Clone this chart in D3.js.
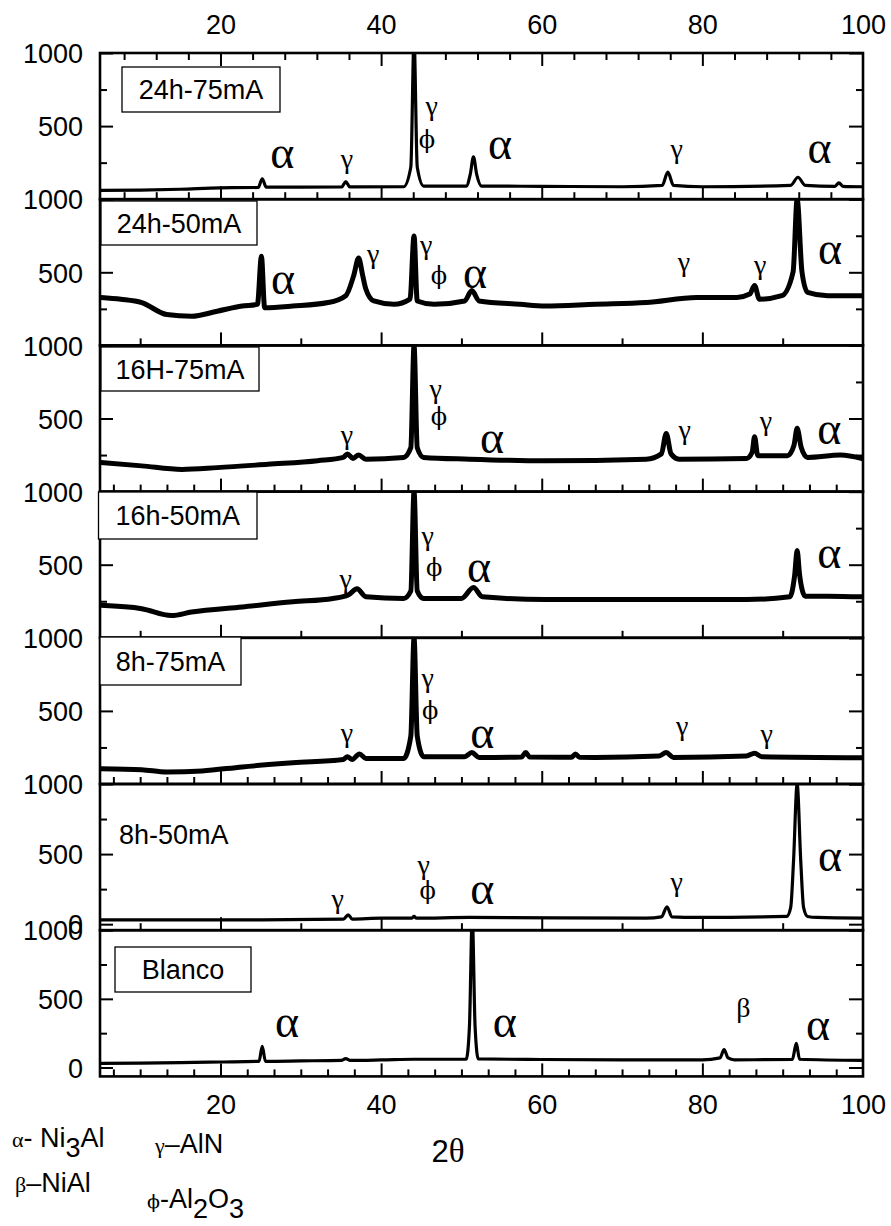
<!DOCTYPE html>
<html><head><meta charset="utf-8">
<script src="https://cdn.jsdelivr.net/npm/d3@7"></script>
<style>
body{margin:0;background:#fff}
svg text{font-family:"Liberation Sans",Arial,sans-serif;fill:#000}
</style>
</head><body>
<svg id="chart" width="891" height="1226"></svg>
<script>
// ---------- DATA ----------
const panelNames = ["24h-75mA","24h-50mA","16H-75mA","16h-50mA","8h-75mA","8h-50mA","Blanco"];
const panelBoxed = [true,true,true,true,true,false,true];
const xTickValues = [20,40,60,80,100];
const yTickValues = [0,500,1000];
const yMinorValues = [250,750];

const s24h75 = [[5,60],[10,62],[15,68],[20,78],[24.7,80],[25.2,140],[25.7,82],[30,82],[35.1,84],[35.6,120],[36.1,84],[42.8,85],[43.7,220],[44.1,1100],[44.5,220],[45.3,90],[50.6,90],[51.1,170],[51.5,290],[51.9,170],[52.5,90],[60,88],[70,85],[75.0,95],[75.7,185],[76.4,95],[80,85],[91.0,95],[91.9,150],[92.8,95],[96.5,88],[97.0,112],[97.5,88],[100,85]];
const s24h50 = [[5.1,328],[7.6,316],[10.2,293],[13.3,211],[16.4,199],[19.6,234],[22.7,269],[24.6,281],[25.1,609],[25.5,258],[29.0,269],[33.4,293],[35.6,340],[36.6,480],[37.2,597],[37.7,480],[38.1,386],[39.1,304],[41.6,281],[43.6,316],[44.1,749],[44.5,304],[46.6,281],[50.4,304],[51.3,375],[52.2,304],[57.3,281],[60.4,269],[66.7,281],[73.0,293],[79.3,328],[84.3,328],[85.9,351],[86.5,410],[87.1,316],[89.9,340],[91.3,504],[91.8,1000],[92.4,504],[93.1,363],[95.6,340],[100,340]];
const s16h75 = [[5.1,199],[10.2,176],[15.2,152],[19.6,164],[25.9,187],[32.1,211],[35.3,234],[35.8,258],[36.5,227],[37.2,251],[38.1,222],[42.8,234],[43.7,300],[44.1,1000],[44.5,300],[45.3,234],[51.0,222],[60.4,211],[73.0,222],[74.9,258],[75.5,398],[76.1,258],[77.1,222],[85.5,227],[86.2,269],[86.5,375],[86.9,246],[90.6,246],[91.4,316],[91.8,433],[92.3,304],[93.1,234],[97.2,250],[100,225]];
const s16h50 = [[5.1,222],[10.2,199],[13.9,152],[16.4,176],[22.7,211],[29.0,246],[34.0,269],[35.9,293],[37.0,335],[38.1,281],[42.8,269],[43.7,320],[44.1,1000],[44.5,320],[45.3,269],[50.0,269],[51.5,344],[52.6,281],[60.4,262],[73.0,262],[85.5,262],[90.9,281],[91.5,433],[91.8,597],[92.1,433],[92.8,285],[95.6,285],[100,280]];
const s8h75 = [[5.1,105],[10.2,98],[13.3,82],[17.7,89],[22.7,117],[29.0,145],[35.3,168],[35.8,187],[36.4,168],[37.3,206],[38.1,175],[42.8,175],[43.7,327],[44.1,1000],[44.5,327],[45.3,187],[50.4,187],[51.3,215],[52.2,182],[57.5,185],[58.0,215],[58.5,185],[63.7,183],[64.2,205],[64.7,183],[66.7,182],[74.6,192],[75.5,215],[76.4,182],[85.5,192],[86.5,210],[87.4,187],[100,180]];
const s8h50 = [[5.1,31],[22.7,31],[35.3,36],[35.9,67],[36.4,36],[40,43],[43.8,43],[44.1,55],[44.4,43],[51.0,48],[73.0,43],[74.9,52],[75.6,124],[76.2,52],[79.3,48],[90.5,55],[91.0,120],[91.35,450],[91.8,1000],[92.25,450],[92.6,120],[93.1,55],[94.3,48],[100,43]];
const sBlanco = [[5,30],[10,32],[15,35],[20,40],[24.8,45],[25.2,153],[25.6,45],[30,48],[35.1,52],[35.6,65],[36.1,52],[40,55],[44.1,60],[50.6,60],[51.0,300],[51.35,1100],[51.7,300],[52.1,62],[60,58],[70,56],[80,56],[82.2,70],[82.7,131],[83.2,70],[84,56],[91.2,58],[91.7,175],[92.1,60],[100,52]];
const seriesList = [s24h75,s24h50,s16h75,s16h50,s8h75,s8h50,sBlanco];
const yDomains = [[0,1000],[0,1000],[0,1000],[0,1000],[0,1000],[-43,1000],[-65,1000]];
const yLabelValues = [[500,1000],[500,1000],[500,1000],[500,1000],[500,1000],[0,500,1000],[0,500,1000]];
const xMinorSteps = [4,10,10/3,10,10/3,10,10/3];

// peak annotations: [symbol, 2θ, intensity]
const notes24h75 = [["α",27.7,322],["γ",35.75,281],["γ",46.3,644],["ϕ",45.7,404],["α",54.8,384],["γ",76.8,349],["α",94.6,356]];
const notes24h50 = [["α",27.8,459],["γ",39.0,630],["γ",45.6,692],["ϕ",47.2,473],["α",51.7,500],["γ",77.7,575],["γ",87.2,555],["α",95.9,664]];
const notes16h75 = [["γ",35.75,390],["γ",46.8,705],["ϕ",47.2,507],["α",53.8,370],["γ",77.8,425],["γ",87.9,486],["α",95.8,432]];
const notes16h50 = [["γ",35.6,404],["γ",45.8,699],["ϕ",46.6,479],["α",52.2,486],["α",95.8,582]];
const notes8h75 = [["γ",35.75,349],["γ",45.8,726],["ϕ",46.1,500],["α",52.6,349],["γ",77.5,397],["γ",88.0,342]];
const notes8h50 = [["γ",34.6,186],["γ",45.3,429],["ϕ",45.8,236],["α",52.6,257],["γ",76.8,307],["α",95.9,493]];
const notesBlanco = [["α",28.3,336],["α",55.4,336],["β",85.1,438],["α",94.4,314]];
const notesList = [notes24h75,notes24h50,notes16h75,notes16h50,notes8h75,notes8h50,notesBlanco];

const xLabel = ["2","θ"];

// ---------- LAYOUT ----------
const svg = d3.select("#chart");
const L = 100, R = 863, top0 = 53, PH = 146.2;
const x = d3.scaleLinear().domain([5,100]).range([L,R]);
const SANS = 27;
const SERIF = "'Liberation Serif','Times New Roman',serif";

function styleAxis(g){
  g.select(".domain").remove();
  g.selectAll(".tick line").attr("stroke","#000").attr("stroke-width",2);
  g.selectAll(".tick text").attr("font-size",SANS).attr("fill","#000")
   .attr("font-family","'Liberation Sans',Arial,sans-serif");
}

function minorX(step){
  const out=[];
  for(let k=0;k*step<=100.001;k++){
    const v=k*step;
    if(v>5.01 && v<99.99 && Math.abs(v/20-Math.round(v/20))>1e-6) out.push(v);
  }
  return out;
}

const defs = svg.append("defs");
const line = d3.line().curve(d3.curveMonotoneX);

panelNames.forEach((name,i)=>{
  const t = top0 + i*PH, b = t + PH;
  const y = d3.scaleLinear().domain(yDomains[i]).range([b,t]);
  const g = svg.append("g");

  defs.append("clipPath").attr("id","clip"+i)
    .append("rect").attr("x",L).attr("y",t).attr("width",R-L).attr("height",PH);

  // data line
  const noisy = (i>=1 && i<=4);
  g.append("path")
    .datum(seriesList[i])
    .attr("clip-path","url(#clip"+i+")")
    .attr("fill","none").attr("stroke","#000")
    .attr("stroke-width", noisy?5:3.2)
    .attr("stroke-linejoin","round")
    .attr("d", line.x(d=>x(d[0])).y(d=>y(d[1])));

  // y axes
  g.append("g").attr("transform",`translate(${L},0)`)
    .call(d3.axisLeft(y).tickValues(yLabelValues[i]).tickSize(-13).tickPadding(17).tickFormat(d3.format("d")))
    .call(styleAxis).selectAll("text").attr("dy","0.36em");
  g.append("g").attr("transform",`translate(${L},0)`)
    .call(d3.axisLeft(y).tickValues(yMinorValues).tickSize(-7).tickFormat(""))
    .call(styleAxis);
  g.append("g").attr("transform",`translate(${R},0)`)
    .call(d3.axisRight(y).tickValues(yTickValues).tickSize(-14).tickFormat(""))
    .call(styleAxis);
  g.append("g").attr("transform",`translate(${R},0)`)
    .call(d3.axisRight(y).tickValues(yMinorValues).tickSize(-7).tickFormat(""))
    .call(styleAxis);

  // x axes
  const last = (i===panelNames.length-1);
  g.append("g").attr("transform",`translate(0,${b})`)
    .call(d3.axisBottom(x).tickValues(xTickValues.filter(v=>v<100)).tickSize(-13)
      .tickPadding(18).tickFormat(last? d3.format("d") : ""))
    .call(styleAxis);
  if(last){
    g.append("g").attr("transform",`translate(0,${b})`)
      .call(d3.axisBottom(x).tickValues([100]).tickSize(0).tickPadding(18).tickFormat(d3.format("d")))
      .call(styleAxis);
  }
  g.append("g").attr("transform",`translate(0,${b})`)
    .call(d3.axisBottom(x).tickValues(minorX(xMinorSteps[i])).tickSize(-7).tickFormat(""))
    .call(styleAxis);
  if(i===0){
    const ta = g.append("g").attr("transform",`translate(0,${t})`)
      .call(d3.axisTop(x).tickValues(xTickValues).tickSize(-13).tickPadding(19).tickFormat(d3.format("d")))
      .call(styleAxis);
    ta.selectAll(".tick").filter(d=>d===100).select("line").remove();
    g.append("g").attr("transform",`translate(0,${t})`)
      .call(d3.axisTop(x).tickValues(minorX(4)).tickSize(-7).tickFormat(""))
      .call(styleAxis);
  }

  // frame
  g.append("rect").attr("x",L).attr("y",t).attr("width",R-L).attr("height",PH)
    .attr("fill","none").attr("stroke","#000").attr("stroke-width",2.6);

  // sample label
  const lab = g.append("g");
  const boxes = [[122,67,158,45],[101,201,156,44],[101,347,158,44],[98.5,492,158.5,47],[100,637,141,48],null,[115,947,136,45]];
  const bx = boxes[i];
  if(panelBoxed[i] && bx){
    lab.append("rect").attr("x",bx[0]).attr("y",bx[1]).attr("width",bx[2]).attr("height",bx[3])
      .attr("fill","#fff").attr("stroke","#000").attr("stroke-width",1.3);
    lab.append("text").attr("x",bx[0]+bx[2]/2).attr("y",bx[1]+bx[3]/2)
      .attr("text-anchor","middle").attr("dy","0.36em").attr("font-size",SANS).text(name);
  } else {
    lab.append("text").attr("x",119).attr("y",y(640)).attr("dy","0.36em")
      .attr("font-size",SANS).text(name);
  }

  // annotations
  g.selectAll("text.note").data(notesList[i]).enter().append("text")
    .attr("class","note")
    .attr("x",d=>x(d[1])).attr("y",d=>y(d[2]))
    .attr("text-anchor","middle").attr("dominant-baseline","central")
    .style("font-family",d=>d[0]==="ϕ" ? "'DejaVu Serif',serif" : SERIF)
    .attr("font-size",d=>d[0]==="α"?46:(d[0]==="ϕ"?24:28))
    .text(d=>d[0]);
});

// x label
const xl = svg.append("text").attr("x",448).attr("y",1162).attr("text-anchor","middle")
  .attr("font-size",31);
xl.append("tspan").text(xLabel[0]);
xl.append("tspan").style("font-family",SERIF).attr("font-size",33).text(xLabel[1]);

// legend
function legendItem(xp,yp,greek,dash,parts){
  const t = svg.append("text").attr("x",xp).attr("y",yp).attr("font-size",SANS);
  t.append("tspan").style("font-family",greek==="ϕ"?"'DejaVu Serif',serif":SERIF)
    .attr("font-size",greek==="ϕ"?19:22).text(greek);
  t.append("tspan").text(dash);
  parts.forEach(p=>{
    t.append("tspan").attr("dy",p.sub?10:(p.back?-10:0)).text(p.s);
  });
}
legendItem(12,1147,"α","- ",[{s:"Ni"},{s:"3",sub:true},{s:"Al",back:true}]);
legendItem(15,1192,"β","–",[{s:"NiAl"}]);
legendItem(155,1153,"γ","–",[{s:"AlN"}]);
legendItem(147,1208,"ϕ","-",[{s:"Al"},{s:"2",sub:true},{s:"O",back:true},{s:"3",sub:true}]);
</script>
</body></html>
